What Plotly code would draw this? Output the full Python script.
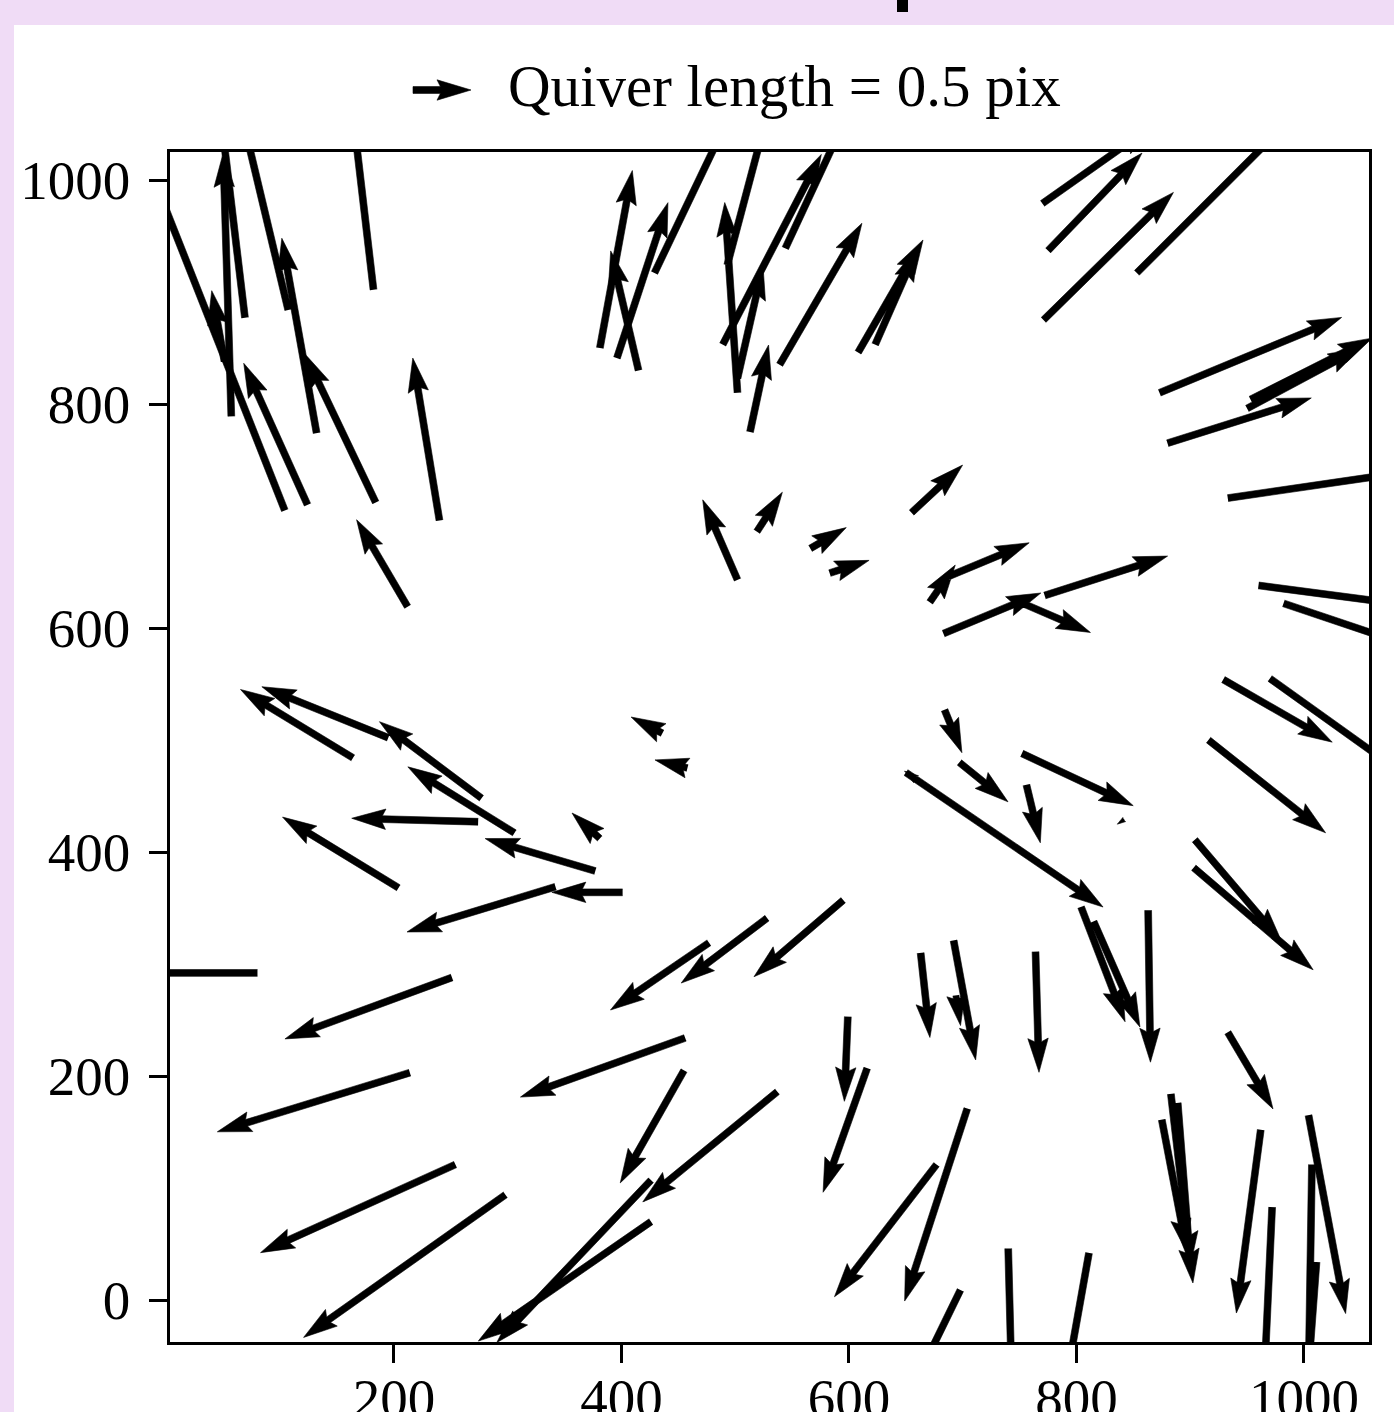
import math
import plotly.graph_objects as go

# ---------------- data (tail position in data units, residual vector in pix) -------------
X = [104, 51, 57, 69, 107, 132, 184, 124, 182, 240, 212, 381, 415, 396, 429, 502, 493, 502,
     489, 544, 513, 539, 608, 623, 502, 519, 655, 566, 583, 436, 458, 381, 164, 195, 277, 306,
     274, 204, 377, 401, 342, 80, 251, 214, 254, 298, 456, 455, 537, 426, 426, 595, 528, 477,
     599, 616, 704, 677, 698, 740, 811, 663, 692, 694, 764, 804, 815, 863, 933, 904, 903, 916,
     929, 970, 684, 697, 752, 756, 650, 659, 842, 671, 685, 683, 746, 772, 770, 775, 771, 853,
     873, 953, 950, 880, 933, 960, 982, 883, 889, 875, 962, 972, 1004, 1007, 1011]
Y = [705, 838, 789, 877, 884, 774, 712, 710, 902, 696, 619, 850, 830, 841, 917, 810, 924, 823,
     853, 939, 775, 835, 846, 853, 643, 686, 703, 671, 649, 506, 475, 412, 484, 502, 448, 417,
     427, 368, 383, 364, 369, 292, 288, 203, 121, 94, 234, 205, 186, 107, 70, 357, 341, 319,
     253, 207, 171, 121, 9, 46, 42, 310, 321, 272, 311, 351, 338, 348, 239, 411, 386, 500,
     554, 555, 527, 480, 488, 460, 471, 465, 429, 623, 645, 595, 625, 629, 979, 937, 875, 917,
     810, 804, 796, 765, 716, 638, 622, 184, 176, 161, 152, 83, 165, 121, 34]
U = [-1.22, -0.11, -0.07, -0.21, -0.41, -0.30, -0.61, -0.55, -0.18, -0.23, -0.44, 0.28, -0.24,
     0.44, 0.65, -0.11, 0.35, 0.22, 0.85, 0.54, 0.16, 0.71, 0.56, 0.37, -0.30, 0.22, 0.44, 0.31,
     0.34, -0.27, -0.28, -0.24, -0.97, -1.09, -0.88, -0.92, -1.09, -1.00, -0.95, -0.61, -1.28,
     -1.12, -1.44, -1.66, -1.68, -1.74, -1.42, -0.55, -1.16, -1.33, -1.49, -0.77, -0.74, -0.85,
     -0.03, -0.38, -0.54, -0.88, -0.38, 0.03, -0.20, 0.08, 0.19, 0.04, 0.03, 0.38, 0.40, 0.02,
     0.39, 0.75, 1.03, 1.01, 0.94, 1.16, 0.15, 0.42, 0.96, 0.12, 1.70, -0.10, -0.06, 0.22, 0.72,
     0.84, 0.65, 1.06, 0.95, 0.81, 1.12, 1.40, 1.57, 1.05, 0.99, 1.24, 1.58, 1.37, 1.10, 0.19,
     0.11, 0.22, -0.21, -0.07, 0.32, -0.03, -0.08]
V = [3.09, 0.61, 2.27, 1.76, 1.72, 1.68, 1.28, 1.22, 1.54, 1.40, 0.75, 1.53, 1.03, 1.34, 1.36,
     1.64, 1.32, 0.97, 1.64, 1.16, 0.75, 1.22, 0.97, 0.84, 0.69, 0.34, 0.41, 0.18, 0.11, 0.14,
     0.07, 0.22, 0.59, 0.44, 0.66, 0.57, 0.03, 0.61, 0.28, 0.00, -0.39, 0.00, -0.53, -0.51,
     -0.76, -1.23, -0.51, -0.97, -0.95, -1.40, -1.03, -0.66, -0.56, -0.58, -0.73, -1.07, -1.66,
     -1.14, -0.78, -1.16, -1.12, -0.73, -1.03, -0.26, -1.04, -0.99, -0.91, -1.31, -0.66, -0.88,
     -0.88, -0.80, -0.54, -0.83, -0.37, -0.34, -0.45, -0.50, -1.16, 0.07, -0.04, 0.32, 0.30,
     0.35, -0.28, 0.34, 0.67, 0.84, 1.10, 1.40, 0.65, 0.53, 0.53, 0.39, 0.23, -0.18, -0.37,
     -1.63, -1.40, -1.15, -1.58, -1.53, -1.71, -1.90, -1.08]

KEY_VALUE = 0.5
KEY_LABEL = "Quiver length = 0.5 pix"
X_TICKS = [200, 400, 600, 800, 1000]
Y_TICKS = [0, 200, 400, 600, 800, 1000]

# ---------------- layout geometry -------------
FIG_W, FIG_H = 1394, 1412
M_L, M_R, M_T, M_B = 170, 25, 152, 70
PLOT_W = FIG_W - M_L - M_R
PLOT_H = FIG_H - M_T - M_B
X_RANGE = [3.1, 3.1 + PLOT_W / 1.1375]
Y_RANGE = [-37.5, -37.5 + PLOT_H / 1.12]
SX = PLOT_W / (X_RANGE[1] - X_RANGE[0])   # screen px per data unit
SY = PLOT_H / (Y_RANGE[1] - Y_RANGE[0])

SCALE = 116.0        # screen px per 1 pix of residual
WIDTH = 6.8          # shaft width (px)
HEADW, HEADL, HEADAL = 3.0, 5.0, 4.5


def arrow_local(length):
    """matplotlib-style quiver arrow polygon in screen px (along x axis)."""
    w = WIDTH
    s = 1.0
    minsh = HEADL * w
    if length < minsh:
        s = length / minsh
    xs = [0, length - HEADAL * w * s, length - HEADL * w * s, length,
          length - HEADL * w * s, length - HEADAL * w * s, 0]
    ys = [0.5 * w * s, 0.5 * w * s, 0.5 * HEADW * w * s, 0,
          -0.5 * HEADW * w * s, -0.5 * w * s, -0.5 * w * s]
    return xs, ys


px_all, py_all = [], []
for x0, y0, u, v in zip(X, Y, U, V):
    vx, vy = u * SCALE, v * SCALE
    L = math.hypot(vx, vy)
    if L < 1e-6:
        continue
    ux, uy = vx / L, vy / L
    nx, ny = -uy, ux
    lx, ly = arrow_local(L)
    for a, b in zip(lx, ly):
        ox = a * ux + b * nx
        oy = a * uy + b * ny
        px_all.append(x0 + ox / SX)
        py_all.append(y0 + oy / SY)
    px_all.append(None)
    py_all.append(None)

fig = go.Figure()
fig.add_trace(go.Scatter(x=px_all, y=py_all, mode="lines", fill="toself",
                         fillcolor="black", line=dict(color="black", width=0.6),
                         hoverinfo="skip", showlegend=False))


# paper-coordinate helpers
def pxx(p):
    return (p - M_L) / PLOT_W


def pyy(p):
    return (FIG_H - M_B - p) / PLOT_H


shapes = []
LAV = "#f0dcf6"
shapes.append(dict(type="rect", xref="paper", yref="paper", x0=pxx(0), x1=pxx(14),
                   y0=pyy(FIG_H + 5), y1=pyy(-5), fillcolor=LAV, line=dict(width=0), layer="below"))
shapes.append(dict(type="rect", xref="paper", yref="paper", x0=pxx(0), x1=pxx(FIG_W + 5),
                   y0=pyy(25), y1=pyy(-5), fillcolor=LAV, line=dict(width=0), layer="below"))
shapes.append(dict(type="rect", xref="paper", yref="paper", x0=pxx(897), x1=pxx(908),
                   y0=pyy(12), y1=pyy(-2), fillcolor="black", line=dict(width=0)))

# quiver key arrow
kx, ky = 413, 90
klen = KEY_VALUE * SCALE
lx, ly = arrow_local(klen)
path = "M " + " L ".join(f"{pxx(kx + a):.5f},{pyy(ky - b):.5f}" for a, b in zip(lx, ly)) + " Z"
shapes.append(dict(type="path", xref="paper", yref="paper", path=path,
                   fillcolor="black", line=dict(color="black", width=0.6)))

FONT = "Liberation Serif"
fig.add_annotation(xref="paper", yref="paper", x=pxx(506), y=pyy(86), text=KEY_LABEL,
                   showarrow=False, xanchor="left", yanchor="middle",
                   font=dict(family=FONT, size=59, color="black"))

axis_common = dict(showline=True, linecolor="black", linewidth=2.5, mirror=True,
                   ticks="outside", ticklen=18, tickwidth=2.5, tickcolor="black",
                   showgrid=False, zeroline=False,
                   tickfont=dict(family=FONT, size=55, color="black"))
fig.update_xaxes(range=X_RANGE, tickvals=X_TICKS, ticktext=[str(t) for t in X_TICKS],
                 ticklabelstandoff=-12, **axis_common)
fig.update_yaxes(range=Y_RANGE, tickvals=Y_TICKS, ticktext=[str(t) for t in Y_TICKS],
                 ticklabelstandoff=8, **axis_common)

fig.update_layout(width=FIG_W, height=FIG_H, autosize=False,
                  margin=dict(l=M_L, r=M_R, t=M_T, b=M_B, autoexpand=False),
                  paper_bgcolor="white", plot_bgcolor="white", shapes=shapes,
                  showlegend=False)
fig.write_html("out.html", config={"responsive": False})
